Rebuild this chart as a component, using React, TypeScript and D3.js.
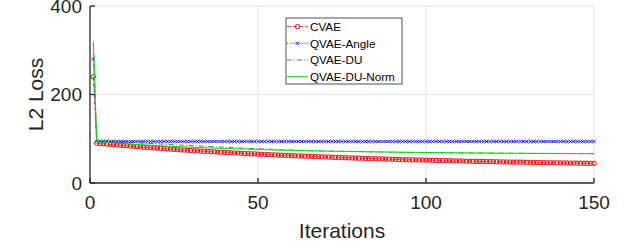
import React from 'react';
import * as d3 from 'd3';

// iteration index 1..150
const iterations = d3.range(1, 151);

const cvae = [
  240,
  90.0, 89.3, 88.6, 87.9, 87.2, 86.6, 85.9, 85.2, 84.6, 84.0,
  83.3, 82.7, 82.1, 81.5, 80.9, 80.4, 79.8, 79.2, 78.7, 78.1,
  77.6, 77.0, 76.5, 76.0, 75.5, 75.0, 74.5, 74.0, 73.5, 73.1,
  72.6, 72.1, 71.7, 71.2, 70.8, 70.3, 69.9, 69.5, 69.1, 68.7,
  68.3, 67.9, 67.5, 67.1, 66.7, 66.3, 65.9, 65.6, 65.2, 64.9,
  64.5, 64.2, 63.8, 63.5, 63.1, 62.8, 62.5, 62.2, 61.9, 61.5,
  61.1, 60.8, 60.5, 60.3, 60.0, 59.7, 59.4, 59.1, 58.9, 58.6,
  58.1, 57.8, 57.6, 57.3, 57.1, 56.8, 56.6, 56.3, 56.1, 55.9,
  55.4, 55.2, 55.0, 54.8, 54.6, 54.3, 54.1, 53.9, 53.7, 53.5,
  53.1, 52.9, 52.7, 52.5, 52.4, 52.2, 52.0, 51.8, 51.6, 51.5,
  51.1, 50.9, 50.7, 50.6, 50.4, 50.3, 50.1, 49.9, 49.8, 49.6,
  49.3, 49.1, 49.0, 48.9, 48.7, 48.6, 48.4, 48.3, 48.2, 48.0,
  47.7, 47.6, 47.5, 47.3, 47.2, 47.1, 47.0, 46.9, 46.7, 46.6,
  46.3, 46.2, 46.1, 46.0, 45.9, 45.8, 45.7, 45.6, 45.5, 45.4,
  45.1, 45.0, 44.9, 44.8, 44.7, 44.6, 44.5, 44.4, 44.3,
];

const qvaeAngle = [
  280,
  94.6, 94.4, 94.3, 94.2, 94.1, 94.0, 94.0, 93.9, 93.9, 93.9,
  93.8, 93.8, 93.8, 93.8, 93.8, 93.8, 93.8, 93.8, 93.8, 93.8,
  93.8, 93.8, 93.8, 93.8, 93.8, 93.8, 93.8, 93.8, 93.8, 93.8,
  93.8, 93.8, 93.8, 93.8, 93.8, 93.8, 93.8, 93.8, 93.8, 93.8,
  93.8, 93.8, 93.8, 93.8, 93.8, 93.8, 93.8, 93.8, 93.8, 93.8,
  93.8, 93.8, 93.8, 93.8, 93.8, 93.8, 93.8, 93.8, 93.8, 93.8,
  93.8, 93.8, 93.8, 93.8, 93.8, 93.8, 93.8, 93.8, 93.8, 93.8,
  93.8, 93.8, 93.8, 93.8, 93.8, 93.8, 93.8, 93.8, 93.8, 93.8,
  93.8, 93.8, 93.8, 93.8, 93.8, 93.8, 93.8, 93.8, 93.8, 93.8,
  93.8, 93.8, 93.8, 93.8, 93.8, 93.8, 93.8, 93.8, 93.8, 93.8,
  93.8, 93.8, 93.8, 93.8, 93.8, 93.8, 93.8, 93.8, 93.8, 93.8,
  93.8, 93.8, 93.8, 93.8, 93.8, 93.8, 93.8, 93.8, 93.8, 93.8,
  93.8, 93.8, 93.8, 93.8, 93.8, 93.8, 93.8, 93.8, 93.8, 93.8,
  93.8, 93.8, 93.8, 93.8, 93.8, 93.8, 93.8, 93.8, 93.8, 93.8,
  93.8, 93.8, 93.8, 93.8, 93.8, 93.8, 93.8, 93.8, 93.8,
];

const qvaeDU = [
  315,
  94.0, 93.7, 93.5, 93.3, 93.0, 92.8, 92.5, 92.2, 92.0, 91.7,
  91.4, 91.1, 90.7, 90.3, 90.0, 89.5, 89.2, 88.8, 88.5, 88.1,
  87.8, 87.3, 86.9, 86.5, 86.1, 85.7, 85.3, 84.9, 84.6, 84.2,
  83.9, 83.5, 83.1, 82.7, 82.3, 81.9, 81.5, 81.2, 80.8, 80.4,
  80.1, 79.7, 79.4, 79.0, 78.7, 78.4, 78.1, 77.7, 77.4, 77.1,
  76.8, 76.5, 76.2, 75.9, 75.6, 75.3, 75.0, 74.8, 74.5, 74.2,
  73.9, 73.7, 73.4, 73.1, 72.9, 72.6, 72.5, 72.3, 72.2, 72.0,
  71.9, 71.8, 71.6, 71.5, 71.4, 71.3, 71.1, 71.0, 70.9, 70.8,
  70.7, 70.5, 70.4, 70.3, 70.2, 70.1, 70.0, 69.9, 69.8, 69.7,
  69.2, 69.1, 69.0, 69.0, 68.9, 68.8, 68.7, 68.6, 68.5, 68.5,
  68.4, 68.3, 68.2, 68.2, 68.1, 68.0, 68.0, 67.9, 67.8, 67.8,
  67.7, 67.6, 67.6, 67.5, 67.5, 67.4, 67.4, 67.3, 67.2, 67.2,
  67.1, 67.1, 67.0, 67.0, 66.9, 66.9, 66.9, 66.8, 66.8, 66.7,
  66.7, 66.6, 66.6, 66.6, 66.5, 66.5, 66.4, 66.4, 66.4, 66.3,
  66.3, 66.3, 66.2, 66.2, 66.2, 66.1, 66.1, 66.1, 66.1,
];

const qvaeDUNorm = [
  320,
  93.0, 92.4, 91.9, 91.4, 90.8, 90.3, 89.8, 89.3, 88.9, 88.4,
  87.9, 87.5, 87.0, 86.6, 86.2, 85.7, 85.3, 84.9, 84.5, 84.1,
  83.8, 83.4, 83.0, 82.7, 82.3, 82.0, 81.6, 81.3, 81.0, 80.7,
  80.4, 80.1, 79.8, 79.5, 79.2, 78.9, 78.6, 78.4, 78.1, 77.8,
  77.6, 77.3, 77.1, 76.8, 76.6, 76.4, 76.2, 75.9, 75.7, 75.5,
  75.3, 75.1, 74.9, 74.7, 74.5, 74.3, 74.1, 74.0, 73.8, 73.6,
  73.4, 73.3, 73.1, 72.9, 72.8, 72.6, 72.5, 72.3, 72.2, 72.0,
  71.9, 71.8, 71.6, 71.5, 71.4, 71.3, 71.1, 71.0, 70.9, 70.8,
  70.7, 70.5, 70.4, 70.3, 70.2, 70.1, 70.0, 69.9, 69.8, 69.7,
  69.6, 69.5, 69.4, 69.4, 69.3, 69.2, 69.1, 69.0, 68.9, 68.9,
  68.8, 68.7, 68.6, 68.6, 68.5, 68.4, 68.4, 68.3, 68.2, 68.2,
  68.1, 68.0, 68.0, 67.9, 67.9, 67.8, 67.8, 67.7, 67.6, 67.6,
  67.5, 67.5, 67.4, 67.4, 67.3, 67.3, 67.3, 67.2, 67.2, 67.1,
  67.1, 67.0, 67.0, 67.0, 66.9, 66.9, 66.8, 66.8, 66.8, 66.7,
  66.7, 66.7, 66.6, 66.6, 66.6, 66.5, 66.5, 66.5, 66.5,
];

const seriesNames = ['CVAE', 'QVAE-Angle', 'QVAE-DU', 'QVAE-DU-Norm'];
const xTicks = [0, 50, 100, 150];
const yTicks = [0, 200, 400];

const FONT = '"Liberation Sans", Arial, Helvetica, sans-serif';
const AXIS = '#262626';
const GRID = '#e3e3e3';

const series = [
  { name: seriesNames[0], values: cvae, color: '#ff0000', dash: '4,2', width: 0.8, marker: 'o' },
  { name: seriesNames[1], values: qvaeAngle, color: '#0000ff', dash: '1,1.5', width: 0.8, marker: 'x' },
  { name: seriesNames[2], values: qvaeDU, color: '#333333', dash: '5,2,1,2', width: 0.7, marker: '' },
  { name: seriesNames[3], values: qvaeDUNorm, color: '#00e000', dash: '', width: 1, marker: '' },
];

const Marker = ({ type, x, y, color }) => {
  if (type === 'o') {
    return <circle cx={x} cy={y} r={2.2} fill="none" stroke={color} strokeWidth={1} />;
  }
  if (type === 'x') {
    const s = 1.6;
    return (
      <path d={`M${x - s},${y - s}L${x + s},${y + s}M${x - s},${y + s}L${x + s},${y - s}`}
        stroke={color} strokeWidth={0.9} fill="none" />
    );
  }
  return null;
};

export default function App() {
  const width = 640;
  const height = 244;
  const left = 90, right = 594, top = 6, bottom = 183;

  const x = d3.scaleLinear().domain([0, 150]).range([left, right]);
  const y = d3.scaleLinear().domain([0, 400]).range([bottom, top]);

  const line = d3.line<number>()
    .x((d, i) => x(iterations[i]))
    .y(d => y(d));

  const legendX = 286, legendY = 18, legendW = 116, legendH = 66;
  const rowY = [26.7, 43.3, 60, 76.7];

  return (
    <svg width={width} height={height} style={{ position: 'absolute', left: 0, top: 0, background: '#fff' }}>
      <rect x={0} y={0} width={width} height={height} fill="#fff" />

      {/* grid */}
      {xTicks.filter(t => t > 0).map(t => (
        <line key={'gx' + t} x1={x(t)} x2={x(t)} y1={top} y2={bottom} stroke={GRID} strokeWidth={1} />
      ))}
      {yTicks.filter(t => t > 0).map(t => (
        <line key={'gy' + t} x1={left} x2={right} y1={y(t)} y2={y(t)} stroke={GRID} strokeWidth={1} />
      ))}

      {/* series */}
      {series.map(s => (
        <g key={s.name}>
          <path d={line(s.values) || ''} fill="none" stroke={s.color} strokeWidth={s.width}
            strokeDasharray={s.dash || undefined} />
          {s.marker && s.values.map((v, i) => (
            <Marker key={i} type={s.marker} x={x(iterations[i])} y={y(v)} color={s.color} />
          ))}
        </g>
      ))}

      {/* axes */}
      <line x1={left} x2={right} y1={bottom} y2={bottom} stroke={AXIS} strokeWidth={1.3} />
      <line x1={left} x2={left} y1={top} y2={bottom} stroke={AXIS} strokeWidth={1.3} />
      {xTicks.map(t => (
        <g key={'xt' + t}>
          <line x1={x(t)} x2={x(t)} y1={bottom} y2={bottom - 5} stroke={AXIS} strokeWidth={1.3} />
          <text x={x(t)} y={209} textAnchor="middle" fontFamily={FONT} fontSize={19} fill={AXIS}>{t}</text>
        </g>
      ))}
      {yTicks.map(t => (
        <g key={'yt' + t}>
          <line x1={left} x2={left + 5} y1={y(t)} y2={y(t)} stroke={AXIS} strokeWidth={1.3} />
          <text x={82} y={y(t) + 6.8} textAnchor="end" fontFamily={FONT} fontSize={19} fill={AXIS}>{t}</text>
        </g>
      ))}

      <text x={(left + right) / 2} y={238} textAnchor="middle" fontFamily={FONT} fontSize={21} fill={AXIS}>Iterations</text>
      <text transform={`translate(43,${(top + bottom) / 2}) rotate(-90)`} textAnchor="middle"
        fontFamily={FONT} fontSize={21} fill={AXIS}>L2 Loss</text>

      {/* legend */}
      <rect x={legendX} y={legendY} width={legendW} height={legendH} fill="#fff" stroke={AXIS} strokeWidth={0.8} />
      {series.map((s, i) => (
        <g key={'lg' + s.name}>
          <line x1={legendX + 1} x2={legendX + 22} y1={rowY[i]} y2={rowY[i]} stroke={s.color}
            strokeWidth={s.width} strokeDasharray={s.dash || undefined} />
          {s.marker && <Marker type={s.marker} x={legendX + 11.5} y={rowY[i]} color={s.color} />}
          <text x={legendX + 24} y={rowY[i] + 4.2} fontFamily={FONT} fontSize={11.7} fill="#000">{s.name}</text>
        </g>
      ))}
    </svg>
  );
}
